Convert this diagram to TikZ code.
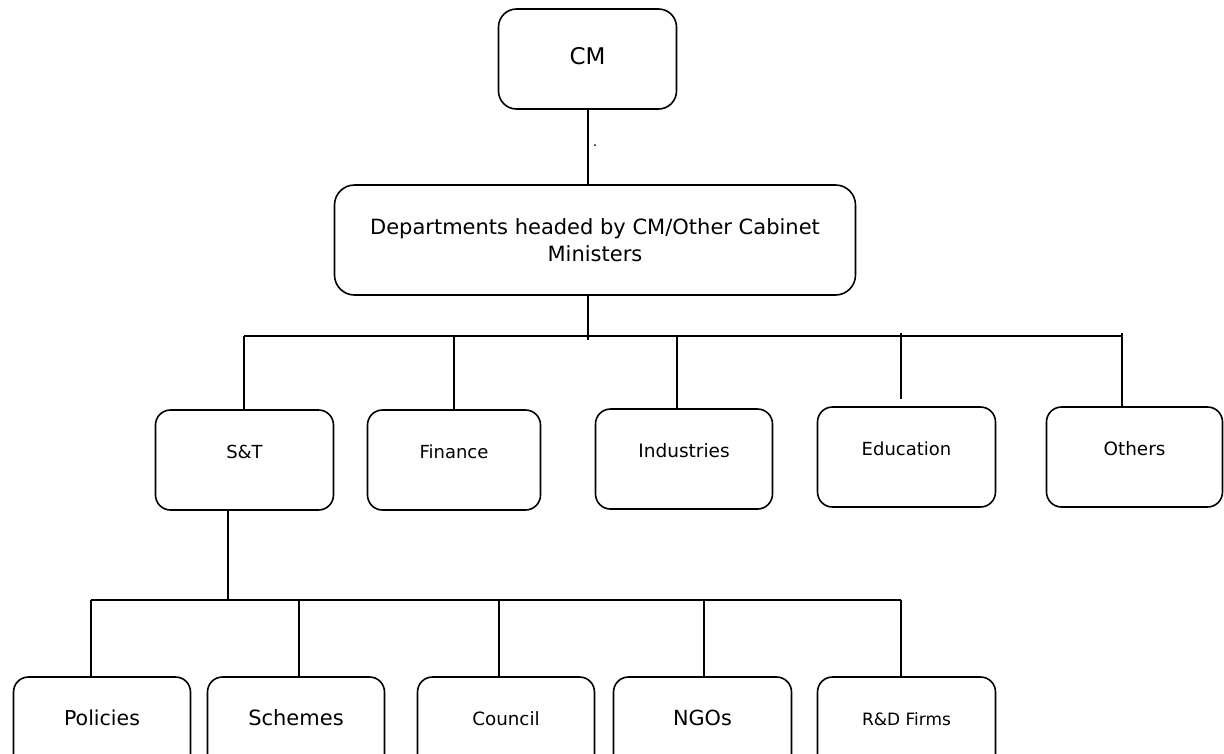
\documentclass[tikz,border=0pt]{standalone}
\usepackage{fontspec}
\setmainfont{DejaVu Sans}
\begin{document}
\begin{tikzpicture}[x=1pt,y=-1pt,
  box/.style={draw, line width=1.6pt, rounded corners=15pt, inner sep=0pt,
    minimum width=177pt, minimum height=100pt, text height=48pt, text depth=52pt},
  conn/.style={line width=1.4pt},
  fs/.style={font=\fontsize{#1}{#1}\selectfont}]
\useasboundingbox (0,0) rectangle (1224,753);
\clip (0,0) rectangle (1224,753);

% top
\node[box, rounded corners=18pt, minimum width=178pt, text height=55pt, text depth=45pt, fs=23] (cm) at (587.5,59) {CM};
\node[draw, line width=1.6pt, rounded corners=20pt, inner sep=0pt, minimum width=521pt, minimum height=110pt,
  align=center, font=\fontsize{21}{27}\selectfont] (dept) at (595,240) {Departments headed by CM/Other Cabinet\\Ministers};
\node[inner sep=0pt, fs=14] (dot) at (595,146) {.};

% departments
\node[box, minimum width=178pt, fs=18] (st) at (244.5,460) {S\&T};
\node[box, minimum width=173pt, fs=18] (fin) at (454,460) {Finance};
\node[box, minimum width=177pt, fs=18.5] (ind) at (684,459) {Industries};
\node[box, minimum width=178pt, fs=18] (edu) at (906.5,457) {Education};
\node[box, minimum width=176pt, fs=18.4] (oth) at (1134.5,457) {Others};

% S&T units
\node[box, fs=20.5] (pol) at (102,727) {Policies};
\node[box, fs=21] (sch) at (296,727) {Schemes};
\node[box, fs=18.3] (cou) at (506,727) {Council};
\node[box, minimum width=178pt, fs=20.8] (ngo) at (702.5,727) {NGOs};
\node[box, minimum width=178pt, fs=17] (rnd) at (906.5,727) {R\&D Firms};

% coordinates
\coordinate (busL) at (244,336);
\coordinate (busR) at (1122,336);
\coordinate (dstub) at (588,340);
\coordinate (indX) at (677,336);
\coordinate (eduA) at (901,333);
\coordinate (eduB) at (901,399);
\coordinate (othA) at (1122,333);
\coordinate (stX) at (228,600);
\coordinate (b2L) at (91,600);
\coordinate (b2R) at (901,600);
\coordinate (schX) at (299,600);
\coordinate (couX) at (499,600);
\coordinate (ngoX) at (704,600);

% connectors
\draw[conn] (dstub |- cm.south) -- (dstub |- dept.north);
\draw[conn] (dstub |- dept.south) -- (dstub);
\draw[conn] (busL) -- (busR);
\draw[conn] (busL) -- (busL |- st.north);
\draw[conn] (fin.north |- busL) -- (fin.north);
\draw[conn] (indX) -- (indX |- ind.north);
\draw[conn] (eduA) -- (eduB);
\draw[conn] (othA) -- (othA |- oth.north);

\draw[conn] (stX |- st.south) -- (stX);
\draw[conn] (b2L) -- (b2R);
\draw[conn] (b2L) -- (b2L |- pol.north);
\draw[conn] (schX) -- (schX |- sch.north);
\draw[conn] (couX) -- (couX |- cou.north);
\draw[conn] (ngoX) -- (ngoX |- ngo.north);
\draw[conn] (b2R) -- (b2R |- rnd.north);
\end{tikzpicture}
\end{document}
